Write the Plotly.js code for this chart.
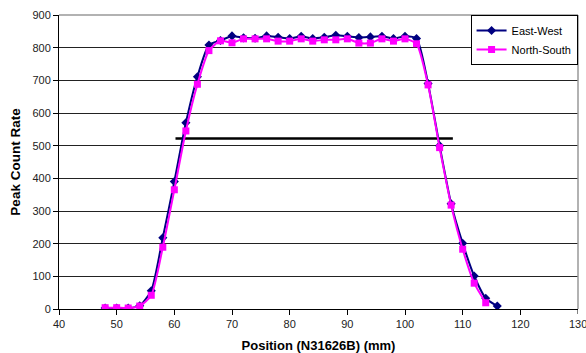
<!DOCTYPE html>
<html>
<head>
<meta charset="utf-8">
<script src="https://cdn.plot.ly/plotly-3.0.1.min.js"></script>
<style>html,body{margin:0;padding:0;background:#fff;}#chart{width:586px;height:353px;}</style>
</head>
<body>
<div id="chart"></div>
<script>
const positions = [48,50,52,54,56,58,60,62,64,66,68,70,72,74,76,78,80,82,84,86,88,90,92,94,96,98,100,102,104,106,108,110,112,114,116];
const eastWest = [3,3,3,10,56,218,390,570,711,808,822,836,830,829,836,832,828,835,828,832,838,835,831,833,835,828,835,828,690,500,322,201,101,33,9];
const northSouthX = [48,50,52,54,56,58,60,62,64,66,68,70,72,74,76,78,80,82,84,86,88,90,92,94,96,98,100,102,104,106,108,110,112,114];
const northSouth = [4,4,3,9,42,189,365,545,688,791,821,815,827,827,827,820,820,827,820,824,824,827,814,814,827,820,827,812,686,494,318,183,79,19];
const halfMaxX = [60.2,108.3];
const halfMaxY = [522,522];
const xTicks = [40,50,60,70,80,90,100,110,120,130];
const yTicks = [0,100,200,300,400,500,600,700,800,900];

const fam = '"Liberation Sans", Arial, sans-serif';
const font = {family: fam, size: 11, color: '#222'};

const traces = [
  {x: halfMaxX, y: halfMaxY, mode: 'lines', line: {color: '#000', width: 2.5}, showlegend: false, hoverinfo: 'skip'},
  {x: positions, y: eastWest, name: 'East-West', mode: 'lines+markers',
   line: {color: '#000080', width: 2, shape: 'spline', smoothing: 0.6},
   marker: {symbol: 'diamond', size: 7, color: '#000080'}},
  {x: northSouthX, y: northSouth, name: 'North-South', mode: 'lines+markers',
   line: {color: '#FF00FF', width: 2, shape: 'spline', smoothing: 0.6},
   marker: {symbol: 'square', size: 7, color: '#FF00FF'}}
];

const lastTick = xTicks[xTicks.length - 1];

const layout = {
  width: 586, height: 353,
  margin: {l: 59, r: 8, t: 15, b: 44},
  paper_bgcolor: '#fff', plot_bgcolor: '#fff',
  font: font,
  showlegend: true,
  legend: {x: 0.793, y: 1.0, xanchor: 'left', yanchor: 'top', bgcolor: '#fff', bordercolor: '#000', borderwidth: 1,
           font: {family: fam, size: 11, color: '#000'}, tracegroupgap: 0, itemwidth: 30},
  xaxis: {range: [40,130], tickvals: xTicks.slice(0, -1), ticktext: xTicks.slice(0, -1).map(String), showgrid: false, zeroline: false,
          showline: true, linecolor: '#000', linewidth: 1, ticks: 'outside', ticklen: 5, tickcolor: '#000',
          tickfont: font,
          title: {text: 'Position (N31626B) (mm)', font: {family: fam, size: 13, color: '#000', weight: 'bold'}, standoff: 12}},
  yaxis: {range: [0,900], tickvals: yTicks, ticktext: yTicks.map(String), showgrid: true, gridcolor: '#222', gridwidth: 1, zeroline: false,
          showline: true, linecolor: '#000', linewidth: 1, ticks: 'outside', ticklen: 5, tickcolor: '#000',
          tickfont: font,
          title: {text: 'Peak Count Rate', font: {family: fam, size: 13.5, color: '#000', weight: 'bold'}, standoff: 8}},
  annotations: [
    {x: lastTick, y: 0, xref: 'x', yref: 'y', text: String(lastTick), showarrow: false, xanchor: 'center', yanchor: 'top',
     yshift: -7, font: font}
  ],
  shapes: [
    {type: 'line', xref: 'x', yref: 'paper', x0: lastTick, x1: lastTick, y0: 0, y1: -0.017, line: {color: '#000', width: 1}},
    {type: 'line', xref: 'paper', yref: 'paper', x0: 0, x1: 1, y0: 1, y1: 1, line: {color: '#999', width: 1.5}, layer: 'above'},
    {type: 'line', xref: 'paper', yref: 'paper', x0: 1, x1: 1, y0: 0, y1: 1, line: {color: '#999', width: 1.5}, layer: 'above'}
  ]
};

Plotly.newPlot('chart', traces, layout, {displayModeBar: false, staticPlot: true});
</script>
</body>
</html>
